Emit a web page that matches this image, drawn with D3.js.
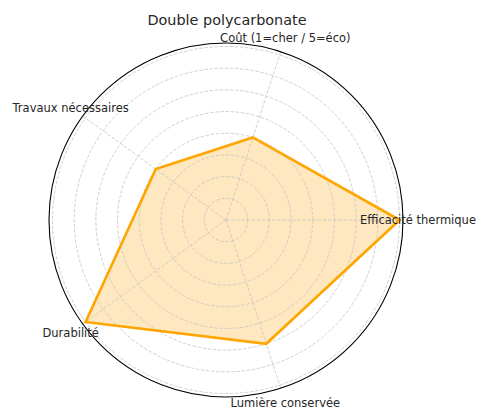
<!DOCTYPE html>
<html>
<head>
<meta charset="utf-8">
<script src="https://cdn.jsdelivr.net/npm/d3@7"></script>
<style>
  html, body { margin: 0; padding: 0; background: #ffffff; }
  svg { display: block; font-family: "DejaVu Sans", sans-serif; }
</style>
</head>
<body>
<svg id="radar"></svg>
<script>
// Radar chart: Double polycarbonate

const chartTitle = "Double polycarbonate";
const categories = [
    "Efficacité thermique",
    "Coût (1=cher / 5=éco)",
    "Travaux nécessaires",
    "Durabilité",
    "Lumière conservée"
];
const values = [4, 2, 2, 4, 3];
const radialTicks = [0.5, 1, 1.5, 2, 2.5, 3, 3.5, 4];
const radialMax = 4.08;

// Dimensions
const width = 480;
const height = 410;
const cx = 226;
const cy = 220;
const outerRadius = 177;
const labelRadius = 192;

const svg = d3.select("#radar")
    .attr("width", width)
    .attr("height", height)
    .attr("viewBox", [0, 0, width, height]);

const rScale = d3.scaleLinear().domain([0, radialMax]).range([0, outerRadius]);

// matplotlib polar: theta 0 to the east, going counter-clockwise
const angle = i => i * 2 * Math.PI / categories.length;
const toXY = (a, r) => [cx + r * Math.cos(a), cy - r * Math.sin(a)];

const g = svg.append("g");

// Filled area (drawn below the grid)
const points = values.map((v, i) => toXY(angle(i), rScale(v)));
const lineGen = d3.line().curve(d3.curveLinearClosed);

g.append("path")
    .attr("d", lineGen(points))
    .attr("fill", "#ffa500")
    .attr("fill-opacity", 0.25)
    .attr("stroke", "none");

// Grid circles
g.selectAll(".r-grid")
    .data(radialTicks)
    .join("circle")
    .attr("class", "r-grid")
    .attr("cx", cx)
    .attr("cy", cy)
    .attr("r", d => rScale(d))
    .attr("fill", "none")
    .attr("stroke", "#c4c4c4")
    .attr("stroke-width", 0.8)
    .attr("stroke-dasharray", "3.5,1.6");

// Spokes
g.selectAll(".t-grid")
    .data(categories)
    .join("line")
    .attr("class", "t-grid")
    .attr("x1", cx)
    .attr("y1", cy)
    .attr("x2", (d, i) => toXY(angle(i), outerRadius)[0])
    .attr("y2", (d, i) => toXY(angle(i), outerRadius)[1])
    .attr("stroke", "#c4c4c4")
    .attr("stroke-width", 0.8)
    .attr("stroke-dasharray", "3.5,1.6");

// Outline of the series
g.append("path")
    .attr("d", lineGen(points))
    .attr("fill", "none")
    .attr("stroke", "#ffa500")
    .attr("stroke-width", 2.6)
    .attr("stroke-linejoin", "miter");

// Outer spine
g.append("circle")
    .attr("cx", cx)
    .attr("cy", cy)
    .attr("r", outerRadius)
    .attr("fill", "none")
    .attr("stroke", "#000000")
    .attr("stroke-width", 1.1);

// Category labels, centered like matplotlib theta tick labels
g.selectAll(".cat-label")
    .data(categories)
    .join("text")
    .attr("class", "cat-label")
    .attr("x", (d, i) => toXY(angle(i), labelRadius)[0])
    .attr("y", (d, i) => toXY(angle(i), labelRadius)[1])
    .attr("dy", "0.38em")
    .attr("text-anchor", "middle")
    .style("font-size", "11.5px")
    .attr("fill", "#262626")
    .text(d => d);

// Title
svg.append("text")
    .attr("x", 227)
    .attr("y", 25)
    .attr("text-anchor", "middle")
    .style("font-size", "14.4px")
    .attr("fill", "#262626")
    .text(chartTitle);
</script>
</body>
</html>
